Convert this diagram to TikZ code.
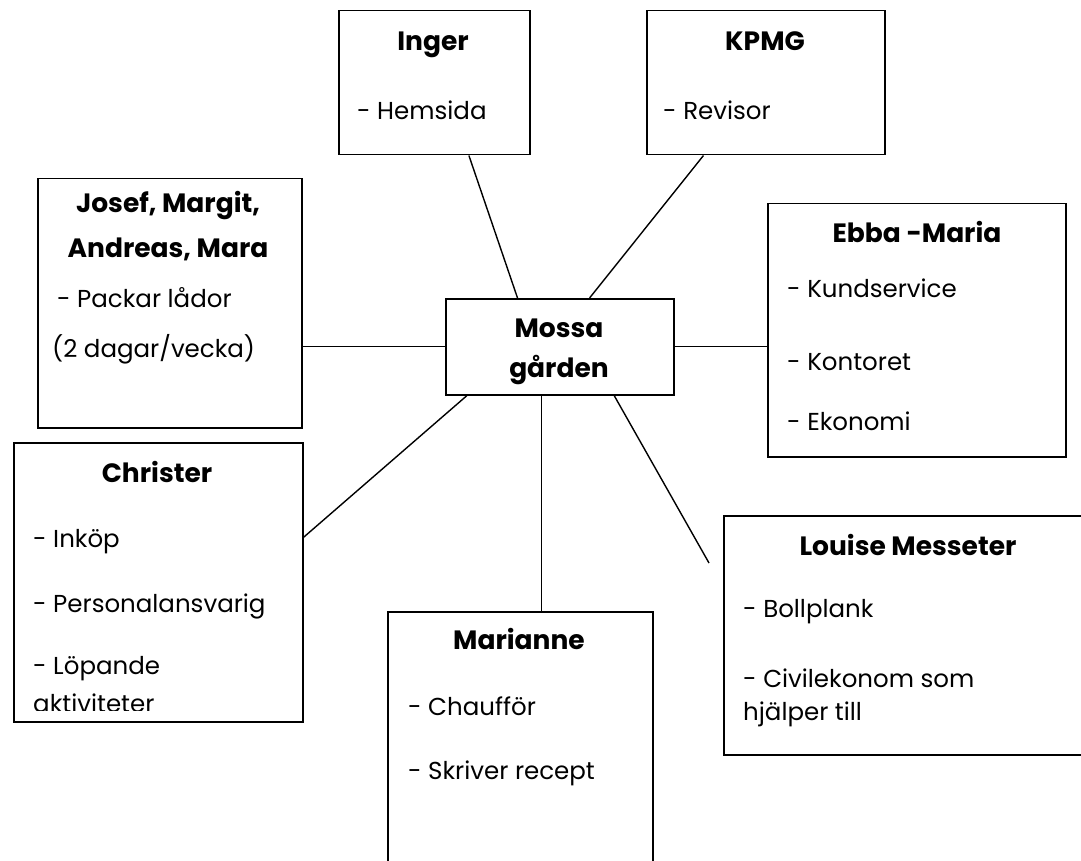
\documentclass[tikz,border=0pt]{standalone}
\usepackage{fontspec}
\setmainfont{Poppins}
\usetikzlibrary{positioning, calc}
\tikzset{
    x=1pt, y=-1pt, % one unit is one pixel, y runs downwards
    box/.style={draw, line width=1.5pt, inner sep=0pt, anchor=north west}, % the frames
    head/.style={font=\bfseries\fontsize{26.5}{30}\selectfont, text height=0.72em, text depth=0pt, inner sep=0pt, yshift=-4pt}, % names
    item/.style={font=\fontsize{24.5}{28}\selectfont, text height=0.72em, text depth=0pt, inner sep=0pt, anchor=west, yshift=-4pt}, % tasks
    link/.style={line width=1.4pt}, % the spokes
}

\begin{document}
\begin{tikzpicture}
            \useasboundingbox (0,0) rectangle (1081,861);
            \clip (0,0) rectangle (1081,861);

            \node[box, minimum width=191pt, minimum height=144pt] (inger) at (338,10) {};
            \node[box, minimum width=238pt, minimum height=144pt] (kpmg) at (646,10) {};
            \node[box, minimum width=264pt, minimum height=249pt] (josef) at (37,178) {};
            \node[box, minimum width=228pt, minimum height=96pt] (mossa) at (445,298) {};
            \node[box, minimum width=298pt, minimum height=253pt] (ebba) at (767,203) {};
            \node[box, minimum width=289pt, minimum height=279pt] (christer) at (13,442) {};
            \node[box, minimum width=265pt, minimum height=300pt] (marianne) at (387,611) {};
            \node[box, minimum width=370pt, minimum height=239pt] (louise) at (723,515) {};

            \node[head] (ingerT) at (433,43) {Inger};
            \node[item] (ingerA) at (357,112) {- Hemsida};

            \node[head] (kpmgT) at (765,43) {KPMG};
            \node[item] (kpmgA) at (663,112) {- Revisor};

            \node[head] (josefT) at (168,205) {Josef, Margit,};
            \node[head] (josefU) at (168,250) {Andreas, Mara};
            \node[item] (josefA) at (57,300) {- Packar lådor};
            \node[item] (josefB) at (52,350) {(2 dagar/vecka)};

            \node[head] (mossaT) at (559,330) {Mossa};
            \node[head] (mossaU) at (559,370) {gården};

            \node[head] (ebbaT) at (917,235) {Ebba -Maria};
            \node[item] (ebbaA) at (787,290) {- Kundservice};
            \node[item] (ebbaB) at (787,363) {- Kontoret};
            \node[item] (ebbaC) at (787,423) {- Ekonomi};

            \node[head] (christerT) at (157,475) {Christer};
            \begin{scope}
                \clip (christer.north west) rectangle ([yshift=12pt]christer.south east);
                \node[item] (christerA) at (33,540) {- Inköp};
                \node[item] (christerB) at (33,605) {- Personalansvarig};
                \node[item] (christerC) at (33,667) {- Löpande};
                \node[item] (christerD) at (33,705) {aktiviteter};
            \end{scope}

            \node[head] (marianneT) at (519,642) {Marianne};
            \node[item] (marianneA) at (408,708) {- Chaufför};
            \node[item] (marianneB) at (408,772) {- Skriver recept};

            \node[head] (louiseT) at (908,548) {Louise Messeter};
            \node[item] (louiseA) at (743,610) {- Bollplank};
            \node[item] (louiseB) at (743,680) {- Civilekonom som};
            \node[item] (louiseC) at (743,713) {hjälper till};

            \coordinate (loose) at (709,563);

            \draw[link] ($(inger.south west)!.68!(inger.south east)$) -- ($(mossa.north west)!.316!(mossa.north east)$);
            \draw[link] ($(kpmg.south west)!.24!(kpmg.south east)$) -- ($(mossa.north west)!.63!(mossa.north east)$);
            \draw[link] (mossa.west -| josef.east) -- (mossa.west);
            \draw[link] (mossa.east) -- (mossa.east -| ebba.west);
            \draw[link] ($(christer.north east)!.34!(christer.south east)$) -- ($(mossa.south west)!.096!(mossa.south east)$);
            \draw[link] ($(mossa.south west)!.42!(mossa.south east)$) coordinate (mdrop) -- (mdrop |- marianne.north);
            \draw[link] ($(mossa.south west)!.737!(mossa.south east)$) -- (loose);
        \end{tikzpicture}
\end{document}
